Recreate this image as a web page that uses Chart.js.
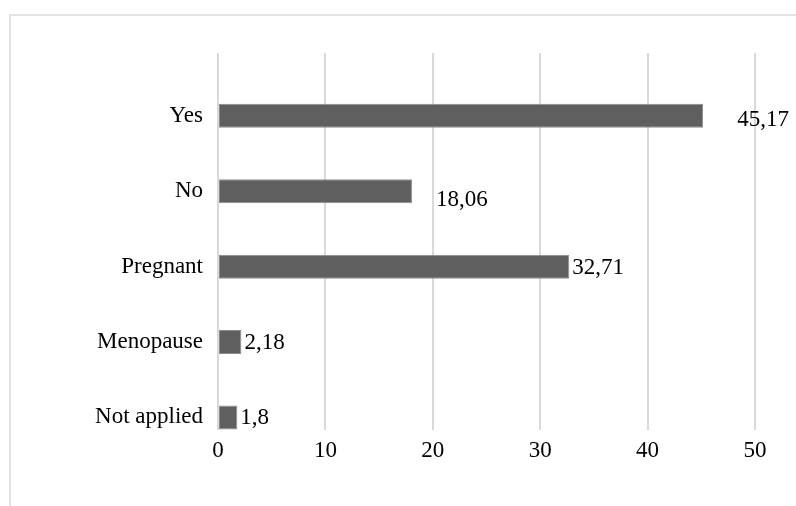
<!DOCTYPE html>
<html>
<head>
<meta charset="utf-8">
<script src="https://cdn.jsdelivr.net/npm/chart.js@4/dist/chart.umd.min.js"></script>
<style>
  html, body { margin: 0; padding: 0; background: #fff; overflow: hidden; }
  #wrap { position: relative; width: 796px; height: 506px; }
  #frame { position: absolute; left: 9px; top: 14px; width: 900px; height: 600px;
           border: 2px solid #e3e3e3; box-sizing: border-box; }
  #box { position: absolute; left: 0; top: 0; width: 796px; height: 506px; }
</style>
</head>
<body>
<div id="wrap">
  <div id="frame"></div>
  <div id="box"><canvas id="myChart"></canvas></div>
</div>
<script>
// data
var categories = ['Yes', 'No', 'Pregnant', 'Menopause', 'Not applied'];
var values = [45.17, 18.06, 32.71, 2.18, 1.8];
var valueLabels = ['45,17', '18,06', '32,71', '2,18', '1,8'];
var xTicks = [0, 10, 20, 30, 40, 50];

// label nudges (pixels) as placed in the original
var labelDx = [31, 21, 0, 0, 0];
var labelDy = [3, 8, 0, 0, 0];

var serif = '"Liberation Serif", "Times New Roman", serif';
var fontSize = 23;

var valueLabelPlugin = {
    id: 'valueLabels',
    afterDatasetsDraw: function(chart){
        var ctx = chart.ctx;
        var meta = chart.getDatasetMeta(2);
        ctx.save();
        ctx.font = fontSize + 'px ' + serif;
        ctx.fillStyle = '#000';
        ctx.textAlign = 'left';
        ctx.textBaseline = 'middle';
        meta.data.forEach(function(bar, i){
            ctx.fillText(valueLabels[i], bar.x + 3 + labelDx[i], bar.y + 1 + labelDy[i]);
        });
        ctx.restore();
    }
};

function createChart(){
    var ctx = document.getElementById('myChart').getContext('2d');
    new Chart(ctx, {
        type: 'bar',
        data: {
            labels: categories,
            datasets: [
                { data: [] },
                { data: [] },
                {
                    data: values,
                    backgroundColor: '#5f5f5f',
                    borderColor: '#8c8c8c',
                    borderWidth: 1,
                    borderSkipped: false
                }
            ]
        },
        options: {
            indexAxis: 'y',
            responsive: false,
            animation: false,
            categoryPercentage: 1,
            barPercentage: 0.955,
            layout: { padding: { left: 0, right: 41, top: 53, bottom: 0 } },
            plugins: {
                legend: { display: false },
                tooltip: { enabled: false }
            },
            scales: {
                x: {
                    min: 0,
                    max: 50,
                    afterBuildTicks: function(s){ s.ticks = xTicks.map(function(v){ return { value: v }; }); },
                    afterFit: function(s){ s.height = 76; },
                    grid: { color: '#d9d9d9', lineWidth: 2, drawTicks: false },
                    border: { display: false },
                    ticks: { color: '#000', padding: 7, font: { family: serif, size: fontSize } }
                },
                y: {
                    afterFit: function(s){ s.width = 218; },
                    grid: { display: false, drawTicks: false },
                    border: { display: false },
                    ticks: { color: '#000', padding: 15, labelOffset: 25, font: { family: serif, size: fontSize } }
                }
            }
        },
        plugins: [valueLabelPlugin]
    });
}

var cv = document.getElementById('myChart');
cv.width = 796;
cv.height = 506;
createChart();
</script>
</body>
</html>
